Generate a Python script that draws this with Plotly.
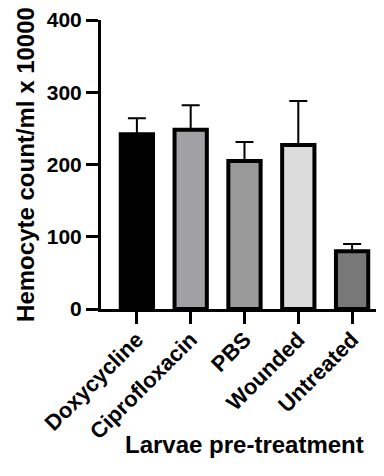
import plotly.graph_objects as go

categories = ["Doxycycline", "Ciprofloxacin", "PBS", "Wounded", "Untreated"]
means = [242, 248, 205, 227, 80]
err_plus = [22, 34, 26, 61, 10]
bar_colors = ["#000000", "#a1a1a5", "#999999", "#dcdcdc", "#787878"]
y_ticks = [0, 100, 200, 300, 400]
x_title = "Larvae pre-treatment"
y_title = "Hemocyte count/ml x 10000"

FONT = "Arial, Liberation Sans, sans-serif"

fig = go.Figure()
fig.add_trace(go.Bar(
    x=categories,
    y=means,
    width=0.6,
    marker=dict(color=bar_colors, line=dict(color="black", width=4)),
    error_y=dict(type="data", symmetric=False, array=err_plus,
                 arrayminus=[0] * len(means), color="black",
                 thickness=2, width=9),
))

# page body has an 8px default margin, so the figure is 8px smaller
fig.update_layout(
    width=376, height=468,
    margin=dict(l=93, r=0, t=12, b=167),
    plot_bgcolor="white", paper_bgcolor="white",
    showlegend=False,
    bargap=0.4,
    font=dict(family=FONT, color="black"),
)
fig.add_annotation(
    text=x_title, xref="paper", yref="paper", x=0.5, y=0,
    xanchor="center", yanchor="middle", showarrow=False,
    xshift=2, yshift=-135,
    font=dict(family=FONT, size=24, weight="bold", color="black"),
)
fig.update_xaxes(
    type="category",
    range=[-0.667, 4.593],
    automargin=False,
    showline=True, linewidth=3, linecolor="black",
    ticks="outside", ticklen=12, tickwidth=3, tickcolor="black",
    tickangle=-45,
    ticklabelstandoff=-6,
    tickfont=dict(family=FONT, size=22, weight="bold", color="black"),
    showgrid=False, zeroline=False,
)
fig.update_yaxes(
    range=[0, 400],
    tickvals=y_ticks,
    automargin=False,
    showline=True, linewidth=3, linecolor="black",
    ticks="outside", ticklen=12, tickwidth=3, tickcolor="black",
    tickfont=dict(family=FONT, size=21, weight="bold", color="black"),
    showgrid=False, zeroline=False,
    title=dict(text=y_title,
               font=dict(family=FONT, size=24, weight="bold", color="black"),
               standoff=6),
)

fig.write_html("out.html")
